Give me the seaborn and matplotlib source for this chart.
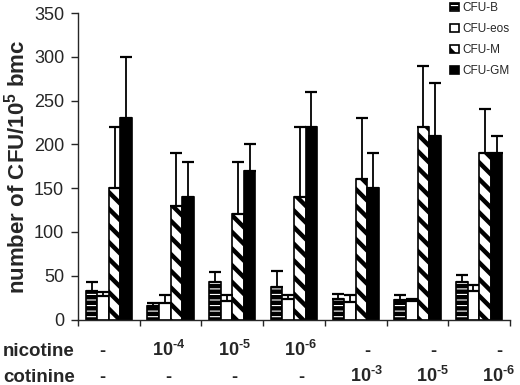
import matplotlib
matplotlib.use("Agg")
import matplotlib.pyplot as plt
import pandas as pd
import seaborn as sns

# values (mean, upper error)
groups = ["g1", "g2", "g3", "g4", "g5", "g6", "g7"]
series = ["CFU-B", "CFU-eos", "CFU-M", "CFU-GM"]
cfu_b = [33, 16, 43, 37, 24, 22, 43]
cfu_b_err = [10, 3, 11, 18, 5, 6, 8]
cfu_eos = [27, 19, 21, 24, 20, 21, 33]
cfu_eos_err = [4, 9, 7, 4, 8, 3, 7]
cfu_m = [150, 130, 120, 140, 160, 220, 190]
cfu_m_err = [70, 60, 60, 80, 70, 70, 50]
cfu_gm = [230, 140, 170, 220, 150, 210, 190]
cfu_gm_err = [70, 40, 30, 40, 40, 60, 20]

nicotine = ["-", r"$10^{\text{-}4}$", r"$10^{\text{-}5}$", r"$10^{\text{-}6}$", "-", "-", "-"]
cotinine = ["-", "-", "-", "-", r"$10^{\text{-}3}$", r"$10^{\text{-}5}$", r"$10^{\text{-}6}$"]

sns.set_style("ticks")
plt.rcParams["font.family"] = ["Liberation Sans", "DejaVu Sans"]
plt.rcParams["mathtext.fontset"] = "custom"
plt.rcParams["mathtext.rm"] = "Liberation Sans:bold"
plt.rcParams["mathtext.bf"] = "Liberation Sans:bold"
plt.rcParams["mathtext.default"] = "bf"
plt.rcParams["hatch.linewidth"] = 3.2
plt.rcParams["hatch.color"] = "black"

values = [cfu_b, cfu_eos, cfu_m, cfu_gm]
errors = [cfu_b_err, cfu_eos_err, cfu_m_err, cfu_gm_err]
df = pd.DataFrame(
    [(g, s, v[i]) for s, v in zip(series, values) for i, g in enumerate(groups)],
    columns=["group", "series", "value"],
)

fig = plt.figure(figsize=(5.2, 3.85), dpi=100)
ax = fig.add_axes([0.15, 0.17, 0.831, 0.796])

sns.barplot(
    data=df,
    x="group",
    y="value",
    hue="series",
    palette=["white", "white", "white", "black"],
    edgecolor="black",
    linewidth=1.2,
    width=0.75,
    ax=ax,
    legend=False,
)

bar_conts = list(ax.containers)
hatches = ["---", None, "\\\\", None]
for cont, hatch, err in zip(bar_conts, hatches, errors):
    xs = []
    ys = []
    for bar in cont:
        if hatch:
            bar.set_hatch(hatch)
            if hasattr(bar, "set_hatch_linewidth"):
                bar.set_hatch_linewidth(3.2)
        xs.append(bar.get_x() + bar.get_width() / 2)
        ys.append(bar.get_height())
    ax.errorbar(
        xs, ys, yerr=[[0] * len(err), err], fmt="none", ecolor="black",
        elinewidth=1.3, capsize=4, capthick=1.6, zorder=1,
    )

ax.set_xlim(-0.5, len(groups) - 0.5)
ax.set_ylim(0, 350)
ax.set_yticks(range(0, 351, 50))
ax.set_xticks([i - 0.5 for i in range(len(groups) + 1)])
ax.set_xticklabels([])
ax.set_xlabel("")
ax.tick_params(axis="y", labelsize=13, length=5, width=1, direction="out", pad=5)
ax.tick_params(axis="x", length=4, width=1, direction="out")
ax.set_ylabel(r"number of CFU/10$^5$ bmc", fontsize=16, fontweight="bold", labelpad=3)
sns.despine(ax=ax)
for sp in ["left", "bottom"]:
    ax.spines[sp].set_linewidth(1.0)

ax.legend(
    handles=[c.patches[0] for c in bar_conts],
    labels=series,
    loc="upper left",
    bbox_to_anchor=(448 / 520, 1.0),
    bbox_transform=fig.transFigure,
    frameon=False,
    fontsize=8.5,
    handlelength=0.7,
    handleheight=0.7,
    handletextpad=0.3,
    labelspacing=0.75,
    borderpad=0.2,
    borderaxespad=0,
)

tr = ax.get_xaxis_transform()
fig.text(0.006, 1 - 356 / 385, "nicotine", fontsize=13.5, fontweight="bold", va="baseline")
fig.text(0.006, 1 - 382 / 385, "cotinine", fontsize=13.5, fontweight="bold", va="baseline")
# text rows sit a little further apart than the bar groups
ax_h = 0.796 * 385
for i, (n, c) in enumerate(zip(nicotine, cotinine)):
    xpos = -0.1 + 1.07 * i
    ax.text(xpos, -(356 - 319.5) / ax_h, n, transform=tr, ha="center", va="baseline",
            fontsize=13, fontweight="bold", clip_on=False)
    ax.text(xpos, -(382 - 319.5) / ax_h, c, transform=tr, ha="center", va="baseline",
            fontsize=13, fontweight="bold", clip_on=False)

fig.savefig("out.png", dpi=100)
